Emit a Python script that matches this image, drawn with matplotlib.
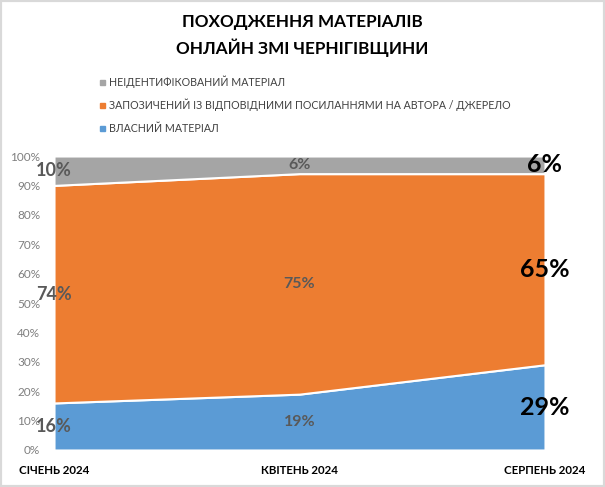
import matplotlib
matplotlib.use("Agg")
import matplotlib.pyplot as plt
from matplotlib.patches import Rectangle

plt.rcParams['font.family'] = ['Lato', 'DejaVu Sans']

# Data
months = ["СІЧЕНЬ 2024", "КВІТЕНЬ 2024", "СЕРПЕНЬ 2024"]
own = [16, 19, 29]
borrowed = [74, 75, 65]
unknown = [10, 6, 6]
series_names = ["ВЛАСНИЙ МАТЕРІАЛ",
                "ЗАПОЗИЧЕНИЙ ІЗ ВІДПОВІДНИМИ ПОСИЛАННЯМИ НА АВТОРА / ДЖЕРЕЛО",
                "НЕІДЕНТИФІКОВАНИЙ МАТЕРІАЛ"]
colors = ['#5B9BD5', '#ED7D31', '#A5A5A5']
yticks = [0, 10, 20, 30, 40, 50, 60, 70, 80, 90, 100]

fig = plt.figure(figsize=(6.05, 4.87), dpi=100)
ax = fig.add_axes([54 / 605, 1 - 450 / 487, (545 - 54) / 605, (450 - 156) / 487])

x = list(range(len(months)))
ax.stackplot(x, own, borrowed, unknown, colors=colors,
             edgecolor='white', linewidth=1.5)
ax.set_xlim(0, len(months) - 1)
ax.set_ylim(0, 100)

for s in ax.spines.values():
    s.set_visible(False)
ax.set_yticks(yticks)
ax.set_yticklabels([f"{t}%" for t in yticks], color='#7F7F7F', fontsize=8.5)
ax.tick_params(axis='y', length=0, pad=10)
ax.set_xticks([])

# X labels
for i, m in enumerate(months):
    ax.text(i, -7, m, ha='center', va='center', fontsize=8.3,
            fontweight='bold', color='black', clip_on=False)

# Data labels
label_styles = [
    dict(fontsize=13, color='#595959'),
    dict(fontsize=11.5, color='#595959'),
    dict(fontsize=18, color='black'),
]
for i in x:
    bottoms = [0, own[i], own[i] + borrowed[i]]
    vals = [own[i], borrowed[i], unknown[i]]
    for b, v in zip(bottoms, vals):
        ax.text(i, b + v / 2, f"{v}%", ha='center', va='center',
                fontweight='bold', clip_on=False, **label_styles[i])

# Title
fig.text(0.5, 1 - 22 / 487, "ПОХОДЖЕННЯ МАТЕРІАЛІВ", ha='center', va='center',
         fontsize=12.3, fontweight='bold', color='black')
fig.text(0.5, 1 - 48 / 487, "ОНЛАЙН ЗМІ ЧЕРНІГІВЩИНИ", ha='center', va='center',
         fontsize=12.3, fontweight='bold', color='black')

# Legend (top to bottom: unknown, borrowed, own)
legend_y = [82, 105, 128]
for yy, name, c in zip(legend_y, series_names[::-1], colors[::-1]):
    fig.patches.append(Rectangle((100 / 605, 1 - (yy + 2.5) / 487), 5 / 605, 5 / 487,
                                 transform=fig.transFigure, color=c))
    fig.text(109 / 605, 1 - yy / 487, name, ha='left', va='center',
             fontsize=7.7, color='#404040')

# Light frame
fig.patches.append(Rectangle((0, 0), 1, 1, transform=fig.transFigure, fill=False,
                             edgecolor='#D9D9D9', linewidth=3))

fig.savefig("out.png", dpi=100)
